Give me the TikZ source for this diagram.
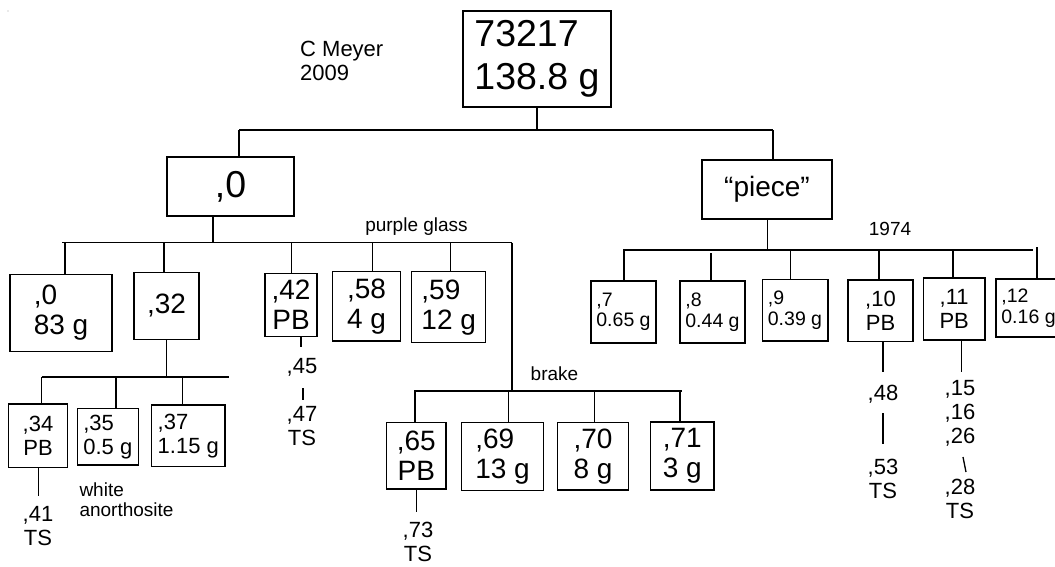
\documentclass[tikz,border=0pt]{standalone}
\usepackage{fontspec}
\setmainfont{Liberation Sans}
\newcommand\fsBig{\fontsize{37.5}{43}\selectfont}
\newcommand\fsPiece{\fontsize{28}{32}\selectfont}
\newcommand\fsMed{\fontsize{28}{30}\selectfont}
\newcommand\fsSm{\fontsize{22}{24}\selectfont}
\newcommand\fsXs{\fontsize{19.5}{20.5}\selectfont}
\newcommand\fsLbl{\fontsize{19}{20}\selectfont}
\begin{document}
\begin{tikzpicture}[x=1pt,y=-1pt,
  box/.style={draw, line width=1.3pt, inner sep=0pt, align=left},
  cbox/.style={box, align=center},
  wire/.style={line width=1.3pt},
  lbl/.style={inner sep=0pt, align=center}]
\useasboundingbox (0,0) rectangle (1055,566);
\fill[gray!70] (8,11) circle[radius=0.7pt];

% boxes
\node[box, minimum width=148pt, minimum height=96pt, font=\fsBig] (top) at (537,59) {73217\\138.8 g};
\node[cbox, minimum width=127pt, minimum height=59pt, font=\fsBig] (n0) at (230.5,186.5) {,0};
\node[cbox, minimum width=130pt, minimum height=59pt, font=\fsPiece] (piece) at (767,189.5) {“piece”};
\node[box, minimum width=102pt, minimum height=77pt, font=\fsMed] (n0a) at (61,313) {,0\\83 g};
\node[cbox, minimum width=65pt, minimum height=67pt, font=\fsMed] (n32) at (166.5,306) {,32};
\node[cbox, minimum width=52pt, minimum height=63pt, font=\fsMed] (n42) at (291,304.7) {,42\\PB};
\node[box, minimum width=68.4pt, minimum height=69.3pt, font=\fsMed] (n58) at (366.5,306.3) {,58\\4 g};
\node[box, minimum width=74pt, minimum height=71pt, font=\fsMed] (n59) at (448.7,307.2) {,59\\12 g};
\node[cbox, minimum width=59.4pt, minimum height=63.3pt, font=\fsSm] (n34) at (38,435.7) {,34\\PB};
\node[box, minimum width=61pt, minimum height=56.7pt, font=\fsSm] (n35) at (107.8,436.7) {,35\\0.5 g};
\node[box, minimum width=73.3pt, minimum height=61.7pt, font=\fsSm] (n37) at (188.3,435.8) {,37\\1.15 g};
\node[cbox, minimum width=59.3pt, minimum height=66.7pt, font=\fsMed] (n65) at (416.3,455.7) {,65\\PB};
\node[box, minimum width=81.6pt, minimum height=68.4pt, font=\fsMed] (n69) at (502.5,456.5) {,69\\13 g};
\node[box, minimum width=70.6pt, minimum height=67.7pt, font=\fsMed] (n70) at (593,456.2) {,70\\8 g};
\node[box, minimum width=63.3pt, minimum height=68pt, font=\fsMed] (n71) at (682.3,456) {,71\\3 g};
\node[box, minimum width=65pt, minimum height=62pt, font=\fsXs] (n7) at (623.5,312) {,7\\0.65 g};
\node[box, minimum width=65pt, minimum height=62pt, font=\fsXs] (n8) at (712.5,312) {,8\\0.44 g};
\node[box, minimum width=65.7pt, minimum height=61.7pt, font=\fsXs] (n9) at (795,310) {,9\\0.39 g};
\node[cbox, minimum width=65pt, minimum height=61.7pt, font=\fsSm] (n10) at (880.5,310.8) {,10\\PB};
\node[cbox, minimum width=61.7pt, minimum height=62pt, font=\fsSm] (n11) at (954.2,309) {,11\\PB};
\node[box, minimum width=65pt, minimum height=58pt, font=\fsXs] (n12) at (1028.5,308) {,12\\0.16 g};

% labels
\node[lbl, anchor=west, align=left, font=\fsSm] (auth) at (300,61.2) {C Meyer\\2009};
\node[lbl, font=\fsLbl] (purple) at (416.5,226.7) {purple glass};
\node[lbl, font=\fsLbl] (y1974) at (890,229) {1974};
\node[lbl, font=\fsLbl] (brake) at (554.5,373.3) {brake};
\node[lbl, anchor=west, align=left, font=\fsLbl] (white) at (79.3,500) {white\\anorthosite};
\node[lbl, font=\fsSm] (l41) at (38,526.5) {,41\\TS};
\node[lbl, font=\fsSm] (l45) at (302,367.7) {,45};
\node[lbl, font=\fsSm] (l47) at (302,426.5) {,47\\TS};
\node[lbl, font=\fsSm] (l73) at (418,542) {,73\\TS};
\node[lbl, font=\fsSm] (l48) at (883,394.7) {,48};
\node[lbl, font=\fsSm] (l53) at (883,479) {,53\\TS};
\node[lbl, font=\fsSm] (l15) at (960,413) {,15\\,16\\,26};
\node[lbl, font=\fsSm] (l28) at (960,499) {,28\\TS};

% top bus
\coordinate (bA) at (239,130);
\coordinate (bB) at (773,130);
\draw[wire] (bA) -- (bB);
\draw[wire] (top.south) -- (top.south |- bA);
\draw[wire] (bA) -- (bA |- n0.north);
\draw[wire] (bB) -- (bB |- piece.north);

% bus under ,0
\coordinate (cA) at (62,242.5);
\coordinate (cB) at (512,242.5);
\draw[wire] (cA) -- (cB);
\draw[wire] (213,0 |- n0.south) -- (213,0 |- cA);
\draw[wire] (65,0 |- cA) -- (65,0 |- n0a.north);
\draw[wire] (164,0 |- cA) -- (164,0 |- n32.north);
\draw[wire] (291.7,0 |- cA) -- (291.7,0 |- n42.north);
\draw[wire] (372.7,0 |- cA) -- (372.7,0 |- n58.north);
\draw[wire] (450.7,0 |- cA) -- (450.7,0 |- n59.north);

% brake bus
\coordinate (dA) at (414,391);
\coordinate (dB) at (682.3,391);
\draw[wire] (dA) -- (dB);
\draw[wire] (cB) -- (cB |- dA);
\draw[wire] (415,0 |- dA) -- (415,0 |- n65.north);
\draw[wire] (508.3,0 |- dA) -- (508.3,0 |- n69.north);
\draw[wire] (594.3,0 |- dA) -- (594.3,0 |- n70.north);
\draw[wire] (680,0 |- dA) -- (680,0 |- n71.north);

% bus under ,32
\coordinate (eA) at (41.7,377);
\coordinate (eB) at (229,377);
\draw[wire] (eA) -- (eB);
\draw[wire] (166.7,0 |- n32.south) -- (166.7,0 |- eA);
\draw[wire] (41.7,0 |- eA) -- (41.7,0 |- n34.north);
\draw[wire] (116,0 |- eA) -- (116,0 |- n35.north);
\draw[wire] (182.7,0 |- eA) -- (182.7,0 |- n37.north);

% piece bus
\coordinate (fA) at (623,250);
\coordinate (fB) at (1033,250);
\draw[wire] (fA) -- (fB);
\draw[wire] (767.7,0 |- piece.south) -- (767.7,0 |- fA);
\draw[wire] (624,0 |- fA) -- (624,0 |- n7.north);
\draw[wire] (711,253) -- (711,0 |- n8.north);
\draw[wire] (790.7,0 |- fA) -- (790.7,0 |- n9.north);
\draw[wire] (879,0 |- fA) -- (879,0 |- n10.north);
\draw[wire] (953,0 |- fA) -- (953,0 |- n11.north);
\draw[wire] (1037,247) -- (1037,0 |- n12.north);

% leaf chains
\coordinate (k41) at (38.3,496);
\draw[wire] (38.3,0 |- n34.south) -- (k41);
\coordinate (k45) at (301,347);
\draw[wire] (301,0 |- n42.south) -- (k45);
\coordinate (k45a) at (303,388);
\coordinate (k45b) at (303,400);
\draw[wire] (k45a) -- (k45b);
\coordinate (k73) at (416.7,511.7);
\draw[wire] (416.7,0 |- n65.south) -- (k73);
\coordinate (k48) at (883,372);
\draw[wire] (883,0 |- n10.south) -- (k48);
\coordinate (k48a) at (883,413);
\coordinate (k48b) at (883,444);
\draw[wire] (k48a) -- (k48b);
\coordinate (k15) at (961.7,372);
\draw[wire] (961.7,0 |- n11.south) -- (k15);
\coordinate (k26a) at (963,457);
\coordinate (k26b) at (966,472);
\draw[wire] (k26a) -- (k26b);
\end{tikzpicture}
\end{document}
